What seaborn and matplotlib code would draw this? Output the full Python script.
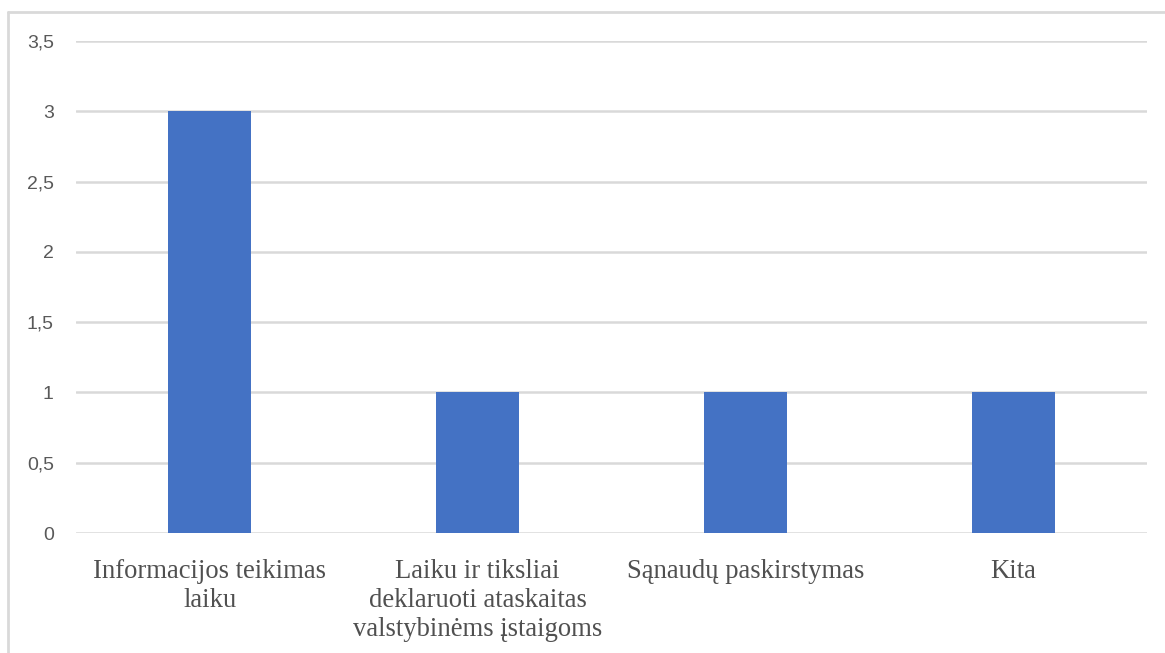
import matplotlib
matplotlib.use("Agg")
import matplotlib.pyplot as plt
from matplotlib.lines import Line2D
from matplotlib.ticker import FuncFormatter
import seaborn as sns
import pandas as pd

categories = [
    "Informacijos teikimas\nlaiku",
    "Laiku ir tiksliai\ndeklaruoti ataskaitas\nvalstybinėms įstaigoms",
    "Sąnaudų paskirstymas",
    "Kita",
]
values = [3, 1, 1, 1]
y_ticks = [0, 0.5, 1, 1.5, 2, 2.5, 3, 3.5]

df = pd.DataFrame({"kategorija": categories, "reiksme": values})

sns.set_theme(style="white")
W, H = 1165, 653
fig = plt.figure(figsize=(W / 100, H / 100), dpi=100)
fig.patch.set_facecolor("white")
ax = fig.add_axes([76 / W, 1 - 533 / H, (1147 - 76) / W, (533 - 41) / H])

sns.barplot(data=df, x="kategorija", y="reiksme", color="#4472C4",
            saturation=1, width=0.31, linewidth=0, ax=ax, zorder=3)

ax.set_ylim(0, 3.5)
ax.set_yticks(y_ticks)
ax.yaxis.set_major_formatter(FuncFormatter(
    lambda v, _: (f"{v:g}").replace(".", ",")))
ax.grid(axis="y", color="#D9D9D9", linewidth=1.8, zorder=0)
ax.set_axisbelow(True)
for s in ax.spines.values():
    s.set_visible(False)
ax.set_xlabel("")
ax.set_ylabel("")
ax.tick_params(axis="both", length=0)
ax.tick_params(axis="y", pad=16)
ax.tick_params(axis="x", pad=19)

for lab in ax.get_yticklabels():
    lab.set_fontfamily("Liberation Sans")
    lab.set_fontsize(14)
    lab.set_color("#595959")
for lab in ax.get_xticklabels():
    lab.set_fontfamily("Liberation Serif")
    lab.set_fontsize(19.2)
    lab.set_color("#505050")
    lab.set_linespacing(1.2)

# chart-area frame (left and top edges)
bx, by = 7.5 / W, 1 - 11.5 / H
fig.add_artist(Line2D([bx, bx], [0, by], transform=fig.transFigure,
                      color="#D9D9D9", linewidth=2))
fig.add_artist(Line2D([bx, 1], [by, by], transform=fig.transFigure,
                      color="#D9D9D9", linewidth=2))

fig.savefig("out.png", dpi=100, facecolor="white")
